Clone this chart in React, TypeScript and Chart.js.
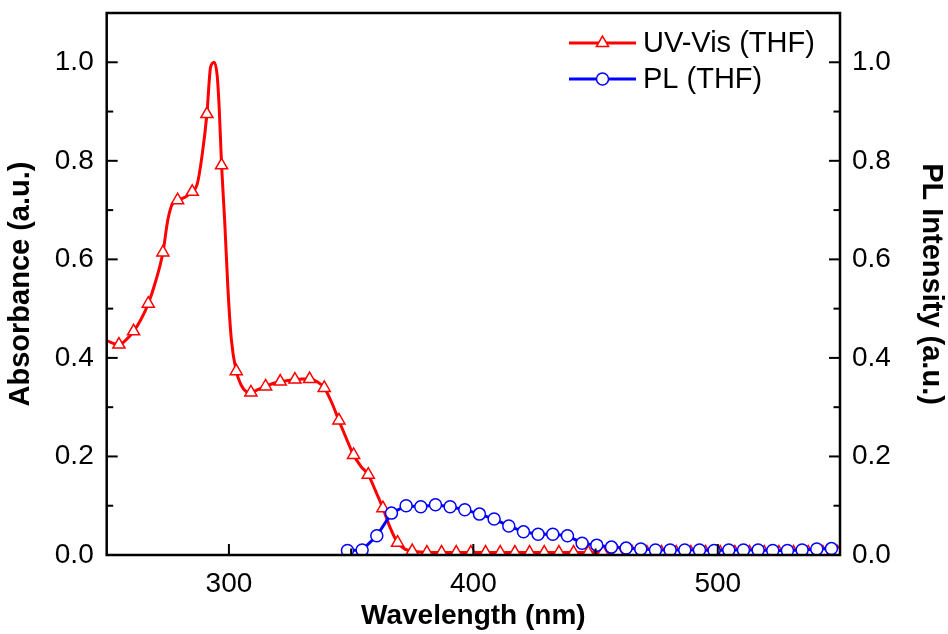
import React, { useEffect, useRef } from "react";
import { Chart, registerables } from "chart.js";

Chart.register(...registerables);

// ---------- data ----------
const seriesLabels = ["UV-Vis (THF)", "PL (THF)"];

const uvWavelength = [
  250, 255, 258, 261, 264, 267, 270, 273, 275, 277, 279, 282, 285, 287, 289, 291,
  292.5, 294, 295.2, 296, 297, 298.3, 299.6, 301, 303, 305, 307, 309, 312, 315,
  318, 321, 324, 327, 330, 333, 336, 339, 342, 345, 348, 351, 354, 357, 360, 363,
  366, 369, 372, 375, 378, 381, 387, 393, 399, 405, 411, 417, 423, 429, 435, 441,
  447, 453, 459, 465, 471, 477, 483, 489, 495, 501, 507, 513, 519, 525, 531, 537,
  543, 549, 550,
];
const uvAbsorbance = [
  0.435, 0.427, 0.437, 0.454, 0.478, 0.51, 0.555, 0.614, 0.68, 0.714, 0.72, 0.726,
  0.737, 0.752, 0.81, 0.895, 0.99, 1.0, 0.973, 0.91, 0.791, 0.675, 0.54, 0.437,
  0.373, 0.345, 0.332, 0.33, 0.336, 0.342, 0.348, 0.352, 0.354, 0.356, 0.357,
  0.357, 0.352, 0.339, 0.31, 0.273, 0.237, 0.203, 0.18, 0.163, 0.13, 0.095,
  0.055, 0.025, 0.012, 0.008, 0.006, 0.005, 0.005, 0.005, 0.005, 0.005, 0.005,
  0.005, 0.005, 0.005, 0.005, 0.005, 0.005, 0.005, 0.005, 0.005, 0.005, 0.005,
  0.005, 0.005, 0.005, 0.005, 0.005, 0.005, 0.005, 0.005, 0.005, 0.005, 0.005,
  0.005, 0.005,
];

const plWavelength = [
  348.5, 354.5, 360.5, 366.5, 372.5, 378.5, 384.5, 390.5, 396.5, 402.5, 408.5,
  414.5, 420.5, 426.5, 432.5, 438.5, 444.5, 450.5, 456.5, 462.5, 468.5, 474.5,
  480.5, 486.5, 492.5, 498.5, 504.5, 510.5, 516.5, 522.5, 528.5, 534.5, 540.5,
  546.5,
];
const plIntensity = [
  0.009, 0.01, 0.039, 0.085, 0.1, 0.098, 0.102, 0.098, 0.092, 0.083, 0.073,
  0.059, 0.047, 0.042, 0.042, 0.039, 0.024, 0.02, 0.016, 0.014, 0.012, 0.01,
  0.01, 0.01, 0.01, 0.009, 0.01, 0.01, 0.01, 0.009, 0.009, 0.01, 0.012, 0.013,
];

const xMajorTicks = [300, 400, 500];
const xMinorTicks = [350, 450];
const yMajorTicks = [0, 0.2, 0.4, 0.6, 0.8, 1.0];
const yMinorTicks = [0.1, 0.3, 0.5, 0.7, 0.9];

// ---------- style ----------
const FONT = 'Arial, "Liberation Sans", Helvetica, sans-serif';
const RED = "#ff0000";
const BLUE = "#0000ff";
const TICK_FONT_SIZE = 28;
const LEGEND_FONT_SIZE = 29;

const isUvMarker = (wl: number) => Number.isInteger(wl) && (wl - 255) % 6 === 0;

const framePlugin = {
  id: "frameTicks",
  afterDatasetsDraw(chart: any) {
    const { ctx, chartArea: a, scales } = chart;
    const x = scales.x;
    const y = scales.y;
    const y2 = scales.y2;
    const major = 11;
    const minor = 6.5;
    ctx.save();
    ctx.strokeStyle = "#000";
    ctx.lineWidth = 2;
    const seg = (x1: number, y1: number, x2: number, y2_: number) => {
      ctx.beginPath();
      ctx.moveTo(x1, y1);
      ctx.lineTo(x2, y2_);
      ctx.stroke();
    };
    xMajorTicks.forEach((v) => {
      const p = x.getPixelForValue(v);
      seg(p, a.bottom, p, a.bottom - major);
    });
    xMinorTicks.forEach((v) => {
      const p = x.getPixelForValue(v);
      seg(p, a.bottom, p, a.bottom - minor);
    });
    yMajorTicks.forEach((v) => {
      const p = y.getPixelForValue(v);
      seg(a.left, p, a.left + major, p);
      const q = y2.getPixelForValue(v);
      seg(a.right, q, a.right - major, q);
    });
    yMinorTicks.forEach((v) => {
      const p = y.getPixelForValue(v);
      seg(a.left, p, a.left + minor, p);
      const q = y2.getPixelForValue(v);
      seg(a.right, q, a.right - minor, q);
    });
    ctx.lineWidth = 2.5;
    ctx.strokeRect(a.left, a.top, a.right - a.left, a.bottom - a.top);
    ctx.restore();
  },
};

const legendPlugin = {
  id: "customLegend",
  afterDraw(chart: any) {
    const { ctx, chartArea: a } = chart;
    const x1 = a.right - 271;
    const x2 = a.right - 204;
    const xm = (x1 + x2) / 2;
    const xt = a.right - 197;
    const rows = [a.top + 30, a.top + 66];
    ctx.save();
    ctx.font = `${LEGEND_FONT_SIZE}px ${FONT}`;
    ctx.textBaseline = "middle";
    ctx.textAlign = "left";
    rows.forEach((ry, i) => {
      const color = i === 0 ? RED : BLUE;
      ctx.strokeStyle = color;
      ctx.lineWidth = 3;
      ctx.beginPath();
      ctx.moveTo(x1, ry);
      ctx.lineTo(x2, ry);
      ctx.stroke();
      ctx.fillStyle = "#fff";
      ctx.lineWidth = 1.5;
      ctx.beginPath();
      if (i === 0) {
        const r = 7;
        let rad = 0;
        ctx.moveTo(xm + Math.sin(rad) * r, ry - Math.cos(rad) * r);
        rad += (2 * Math.PI) / 3;
        ctx.lineTo(xm + Math.sin(rad) * r, ry - Math.cos(rad) * r);
        rad += (2 * Math.PI) / 3;
        ctx.lineTo(xm + Math.sin(rad) * r, ry - Math.cos(rad) * r);
        ctx.closePath();
      } else {
        ctx.arc(xm, ry, 6, 0, Math.PI * 2);
      }
      ctx.fill();
      ctx.stroke();
      ctx.fillStyle = "#000";
      ctx.fillText(seriesLabels[i], xt, ry + 1);
    });
    ctx.restore();
  },
};

const noVerticalPadding = (s: any) => {
  s.paddingTop = 0;
  s.paddingBottom = 0;
};

export default function App() {
  const canvasRef = useRef<HTMLCanvasElement | null>(null);

  useEffect(() => {
    document.body.style.margin = "0";
    const canvas = canvasRef.current;
    if (!canvas) return;

    const uvData = uvWavelength.map((w, i) => ({ x: w, y: uvAbsorbance[i] }));
    const plData = plWavelength.map((w, i) => ({ x: w, y: plIntensity[i] }));

    const tickFont = { family: FONT, size: TICK_FONT_SIZE };
    const xTitleFont = { family: FONT, size: 28, weight: "bold" as const };
    const yTitleFont = { family: FONT, size: 29, weight: "bold" as const };

    const chart = new Chart(canvas, {
      type: "line",
      data: {
        datasets: [
          {
            label: seriesLabels[0],
            data: uvData,
            yAxisID: "y",
            borderColor: RED,
            borderWidth: 3,
            backgroundColor: "#ffffff",
            cubicInterpolationMode: "monotone",
            pointStyle: "triangle",
            pointRadius: (c: any) => (isUvMarker(c.raw.x) ? 7 : 0),
            pointBorderWidth: 1.5,
            pointBorderColor: RED,
            pointBackgroundColor: "#ffffff",
            order: 1,
          },
          {
            label: seriesLabels[1],
            data: plData,
            yAxisID: "y2",
            borderColor: BLUE,
            borderWidth: 3,
            backgroundColor: "#ffffff",
            tension: 0,
            pointStyle: "circle",
            pointRadius: 6,
            pointBorderWidth: 1.5,
            pointBorderColor: BLUE,
            pointBackgroundColor: "#ffffff",
            order: 0,
          },
        ],
      },
      options: {
        responsive: false,
        animation: false,
        devicePixelRatio: 1,
        layout: { padding: { top: 13, left: 0, right: 0, bottom: 0 } },
        plugins: {
          legend: { display: false },
          tooltip: { enabled: false },
        },
        scales: {
          x: {
            type: "linear",
            min: 250,
            max: 550,
            grid: { display: false, drawTicks: false },
            border: { display: false },
            afterBuildTicks: (s: any) => {
              s.ticks = xMajorTicks.map((v) => ({ value: v }));
            },
            afterFit: (s: any) => {
              s.height = 79;
              s.paddingLeft = 0;
              s.paddingRight = 0;
            },
            ticks: {
              font: tickFont,
              color: "#000",
              padding: 12,
              maxRotation: 0,
              callback: (v: any) => String(v),
            },
            title: {
              display: true,
              text: "Wavelength (nm)",
              font: xTitleFont,
              color: "#000",
              padding: { top: 0, bottom: 1 },
            },
          },
          y: {
            type: "linear",
            position: "left",
            min: 0,
            max: 1.1,
            grid: { display: false, drawTicks: false },
            border: { display: false },
            afterBuildTicks: (s: any) => {
              s.ticks = yMajorTicks.map((v) => ({ value: v }));
            },
            afterFit: (s: any) => {
              s.width = 106.7;
              noVerticalPadding(s);
            },
            ticks: {
              font: tickFont,
              color: "#000",
              padding: 13,
              callback: (v: any) => Number(v).toFixed(1),
            },
            title: {
              display: true,
              text: "Absorbance (a.u.)",
              font: yTitleFont,
              color: "#000",
              padding: { top: 4, bottom: 0 },
            },
          },
          y2: {
            type: "linear",
            position: "right",
            min: 0,
            max: 1.1,
            grid: { display: false, drawTicks: false },
            border: { display: false },
            afterBuildTicks: (s: any) => {
              s.ticks = yMajorTicks.map((v) => ({ value: v }));
            },
            afterFit: (s: any) => {
              s.width = 108;
              noVerticalPadding(s);
            },
            ticks: {
              font: tickFont,
              color: "#000",
              padding: 12,
              callback: (v: any) => Number(v).toFixed(1),
            },
            title: {
              display: true,
              text: "PL Intensity (a.u.)",
              font: yTitleFont,
              color: "#000",
              padding: { top: 0, bottom: 0 },
            },
          },
        },
      },
      plugins: [framePlugin, legendPlugin],
    } as any);

    return () => chart.destroy();
  }, []);

  return (
    <canvas
      ref={canvasRef}
      width={948}
      height={634}
      style={{ position: "fixed", left: 0, top: 0, width: 948, height: 634, background: "#fff" }}
    />
  );
}
